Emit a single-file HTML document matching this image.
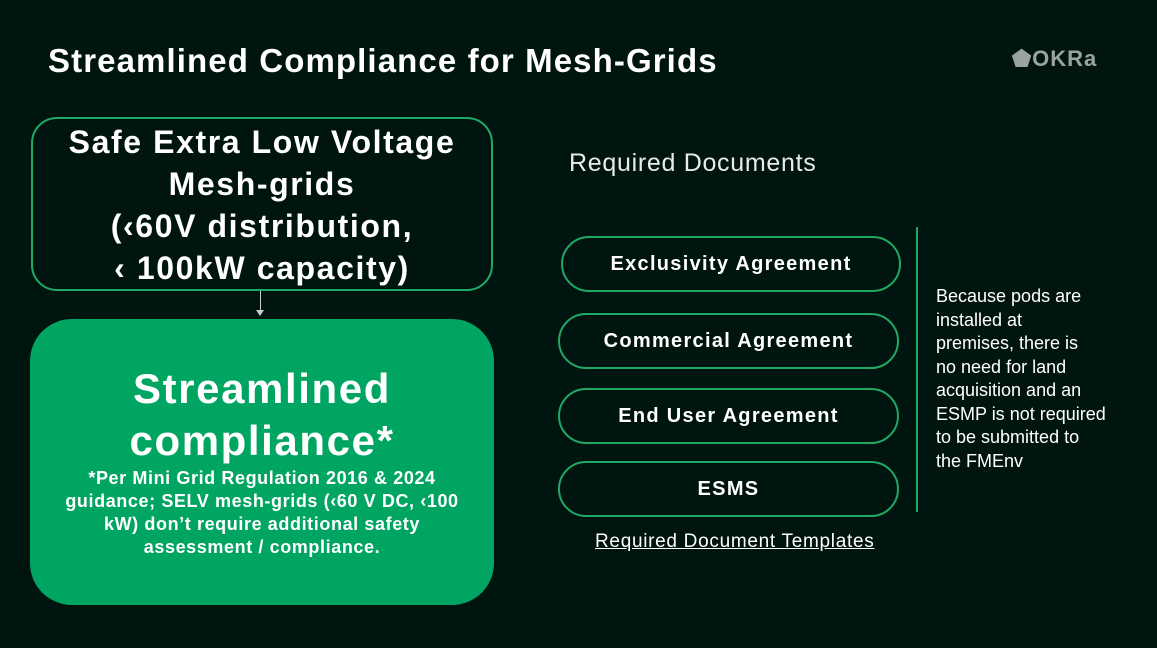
<!DOCTYPE html>
<html><head><meta charset="utf-8"><style>
body{margin:0;width:1157px;height:648px;background:#011510;position:relative;overflow:hidden;font-family:"Liberation Sans",sans-serif;color:#fff}
.a{position:absolute}
.title{left:48px;top:42px;font-size:33px;font-weight:bold;letter-spacing:1.1px}
.box1{left:31px;top:117px;width:458px;height:170px;border:2px solid #1fa965;border-radius:26px;text-align:center;font-size:32px;line-height:42px;font-weight:bold;letter-spacing:1.6px;box-sizing:content-box}
.box2{left:30px;top:319px;width:464px;height:286px;background:#00a562;border-radius:42px;text-align:center}
.pill{border:2px solid #1fa965;border-radius:30px;text-align:center;font-weight:bold;font-size:20px;letter-spacing:1.3px;box-sizing:border-box}
</style></head><body>
<div class="a title">Streamlined Compliance for Mesh-Grids</div>
<div class="a" style="left:1012px;top:46px;font-size:22px;font-weight:bold;color:#9aa3a0;letter-spacing:1px">⬟OKRa</div>
<div class="a box1"><div style="padding-top:2px">Safe Extra Low Voltage<br>Mesh-grids<br>(‹60V distribution,<br>‹ 100kW capacity)</div></div>
<div class="a" style="left:260px;top:291px;width:1px;height:22px;background:#ccc"></div>
<div class="a" style="left:256px;top:310px;width:0;height:0;border-left:4px solid transparent;border-right:4px solid transparent;border-top:6px solid #ccc"></div>
<div class="a box2">
<div style="font-size:42px;font-weight:bold;line-height:52px;margin-top:44px;letter-spacing:1.6px">Streamlined<br>compliance*</div>
<div style="font-size:18px;font-weight:bold;line-height:23px;padding:0 26px;letter-spacing:0.6px">*Per Mini Grid Regulation 2016 &amp; 2024 guidance; SELV mesh-grids (‹60 V DC, ‹100 kW) don’t require additional safety assessment / compliance.</div>
</div>
<div class="a" style="left:569px;top:149px;font-size:25px;color:#e8ece9;letter-spacing:0.7px">Required Documents</div>
<div class="a pill" style="left:561px;top:236px;width:340px;height:56px;line-height:52px">Exclusivity Agreement</div>
<div class="a pill" style="left:558px;top:313px;width:341px;height:56px;line-height:52px">Commercial Agreement</div>
<div class="a pill" style="left:558px;top:388px;width:341px;height:56px;line-height:52px">End User Agreement</div>
<div class="a pill" style="left:558px;top:461px;width:341px;height:56px;line-height:52px">ESMS</div>
<div class="a" style="left:595px;top:531px;font-size:19px;text-decoration:underline;letter-spacing:0.7px">Required Document Templates</div>
<div class="a" style="left:916px;top:227px;width:2px;height:285px;background:#1fa965"></div>
<div class="a" style="left:936px;top:285px;width:175px;font-size:18px;line-height:23.5px">Because pods are installed at<br>premises, there is<br>no need for land<br>acquisition and an<br>ESMP is not required<br>to be submitted to<br>the FMEnv</div>
</body></html>
